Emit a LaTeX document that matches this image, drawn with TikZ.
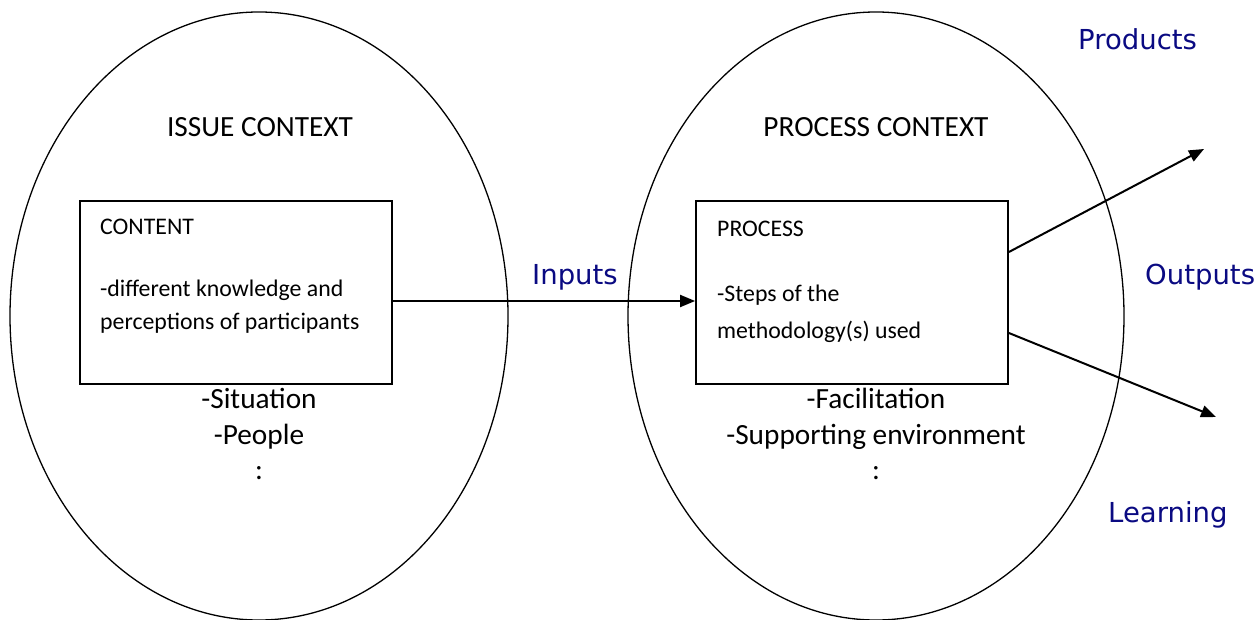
\documentclass[tikz,border=0pt]{standalone}
\usepackage{fontspec}
\setmainfont{Carlito}
\newfontfamily\verd{DejaVu Sans}
\usetikzlibrary{arrows.meta}
\definecolor{navy}{RGB}{10,10,130}
\tikzset{
  ctx/.style={draw, line width=1.3pt},
  boxn/.style={draw, line width=1.8pt, minimum width=312pt, minimum height=183pt, inner sep=0pt},
  boxtext/.style={anchor=base west, inner sep=0pt, font=\fontsize{23.8}{28}\selectfont},
  bigtext/.style={anchor=base, inner sep=0pt, font=\fontsize{29.3}{34}\selectfont},
  bluetext/.style={anchor=base west, inner sep=0pt, text=navy, font=\verd\fontsize{27.5}{32}\selectfont},
  conn/.style={line width=2pt, -{Triangle[length=15pt, width=12pt]}}
}
\begin{document}
\begin{tikzpicture}[x=1pt,y=-1pt]
\useasboundingbox (0,0) rectangle (1260,620);
% ellipses
\draw[ctx] (259,316) ellipse [x radius=249, y radius=304];
\draw[ctx] (876,316) ellipse [x radius=248, y radius=304];
% titles
\node[bigtext] (issue) at (260,137) {ISSUE CONTEXT};
\node[bigtext] (proc) at (876,137) {PROCESS CONTEXT};
% boxes
\node[boxn] (cbox) at (236,292.5) {};
\node[boxn] (pbox) at (852,292.5) {};
\node[boxtext] (ct1) at (100,234.5) {CONTENT};
\node[boxtext] (ct2) at (100,296) {-different knowledge and};
\node[boxtext] (ct3) at (100,329) {perceptions of participants};
\node[boxtext] (pt1) at (717,236.5) {PROCESS};
\node[boxtext] (pt2) at (717,301) {-Steps of the};
\node[boxtext] (pt3) at (717,338) {methodology(s) used};
% lists
\node[bigtext] (sit) at (259,408.5) {-Situation};
\node[bigtext] (peo) at (259,444) {-People};
\node[bigtext] (dot1) at (259,479) {:};
\node[bigtext] (fac) at (876,408.5) {-Facilitation};
\node[bigtext] (sup) at (876,444) {-Supporting environment};
\node[bigtext] (dot2) at (876,479) {:};
% blue labels
\node[bluetext] (inp) at (532,284.5) {Inputs};
\node[bluetext] (outp) at (1145,284.5) {Outputs};
\node[bluetext] (prod) at (1078,49.5) {Products};
\node[bluetext] (learn) at (1108,522) {Learning};
% connectors
\coordinate (arr) at (0,301);
\coordinate (up) at (0,252);
\coordinate (dn) at (0,333);
\coordinate (tipP) at (1204,149);
\coordinate (tipL) at (1216,417);
\draw[conn] (cbox.east |- arr) -- (pbox.west |- arr);
\draw[conn] (pbox.east |- up) -- (tipP);
\draw[conn] (pbox.east |- dn) -- (tipL);
\end{tikzpicture}
\end{document}
